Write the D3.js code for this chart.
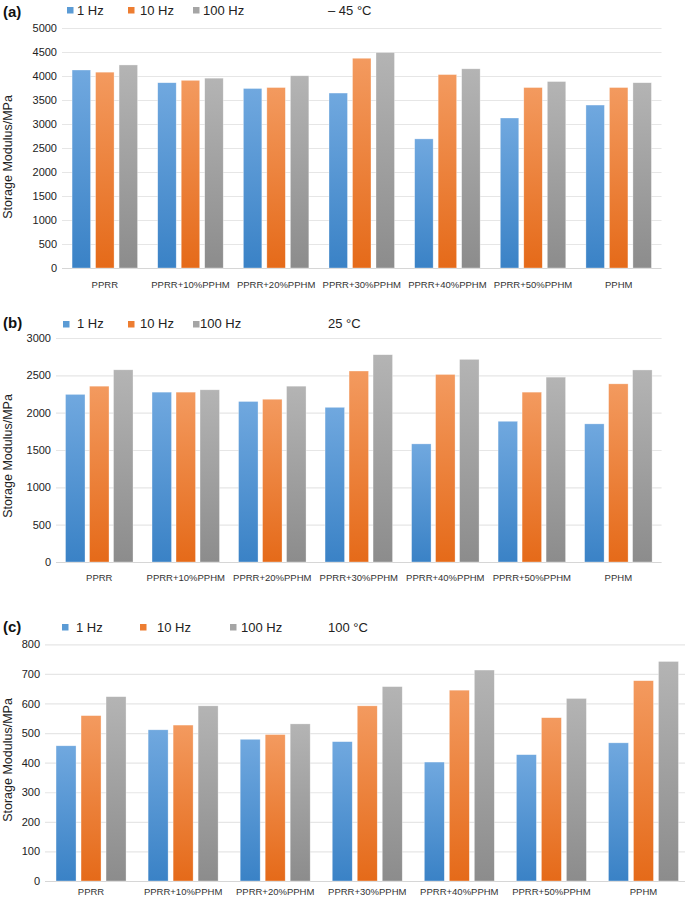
<!DOCTYPE html>
<html><head><meta charset="utf-8">
<script src="https://cdn.jsdelivr.net/npm/d3@7"></script>
<style>
html,body{margin:0;padding:0;background:#fff;}
svg{display:block;font-family:"Liberation Sans",Arial,Helvetica,sans-serif;}
</style></head>
<body>
<svg id="chart" width="685" height="900"></svg>
<script>
// ---- data ----
const categories = ["PPRR","PPRR+10%PPHM","PPRR+20%PPHM","PPRR+30%PPHM","PPRR+40%PPHM","PPRR+50%PPHM","PPHM"];
const seriesNames = ["1 Hz","10 Hz","100 Hz"];

const minus45_1Hz   = [4125, 3860, 3740, 3645, 2690, 3125, 3395];
const minus45_10Hz  = [4080, 3910, 3760, 4370, 4030, 3760, 3760];
const minus45_100Hz = [4230, 3955, 4005, 4490, 4150, 3885, 3860];

const t25_1Hz   = [2245, 2275, 2150, 2072, 1582, 1885, 1850];
const t25_10Hz  = [2355, 2275, 2180, 2558, 2512, 2275, 2386];
const t25_100Hz = [2574, 2306, 2355, 2776, 2714, 2476, 2572];

const t100_1Hz   = [457, 511, 479, 471, 402, 427, 467];
const t100_10Hz  = [559, 527, 495, 592, 645, 552, 677];
const t100_100Hz = [623, 592, 531, 657, 713, 617, 742];

const ticksA = [0,500,1000,1500,2000,2500,3000,3500,4000,4500,5000];
const ticksB = [0,500,1000,1500,2000,2500,3000];
const ticksC = [0,100,200,300,400,500,600,700,800];

const panelLabels = ["(a)","(b)","(c)"];
const tempLabels = ["\u2013 45 \u00B0C","25 \u00B0C","100 \u00B0C"];
const yTitle = "Storage Modulus/MPa";

// ---- layout (positions/styles only) ----
const panels = [
  {label:panelLabels[0], temp:tempLabels[0], series:[minus45_1Hz,minus45_10Hz,minus45_100Hz], ticks:ticksA, yMax:5000,
   x0:62, x1:661.5, yTop:28, yBot:268, tickX:57, barW:18.5, gap:5,
   labelY:17, legY:15, sq:[[67,7],[128,7],[193,7]], txt:[77,140,203], tempX:328, titleY:157, catY:288},
  {label:panelLabels[1], temp:tempLabels[1], series:[t25_1Hz,t25_10Hz,t25_100Hz], ticks:ticksB, yMax:3000,
   x0:56, x1:661.6, yTop:338, yBot:562, tickX:52, barW:19.5, gap:4.5,
   labelY:328, legY:328, sq:[[63,321],[128,321],[193,321]], txt:[77,140,200], tempX:328, titleY:456, catY:581},
  {label:panelLabels[2], temp:tempLabels[2], series:[t100_1Hz,t100_10Hz,t100_100Hz], ticks:ticksC, yMax:800,
   x0:45, x1:689.5, yTop:644.3, yBot:881, tickX:40, barW:20, gap:5,
   labelY:632, legY:632, sq:[[62,624],[140,624],[230,624]], txt:[76,157,241], tempX:328, titleY:760, catY:895}
];

const colors = [
  {top:"#70a8df", bot:"#3a82c6", flat:"#5b9bd5"},
  {top:"#f39a5f", bot:"#e56a19", flat:"#ed7d31"},
  {top:"#b4b4b4", bot:"#8c8c8c", flat:"#a5a5a5"}
];

const svg = d3.select("#chart");
const defs = svg.append("defs");
colors.forEach((c,i)=>{
  const g = defs.append("linearGradient").attr("id","grad"+i).attr("x1",0).attr("y1",0).attr("x2",0).attr("y2",1);
  g.append("stop").attr("offset","0%").attr("stop-color",c.top);
  g.append("stop").attr("offset","100%").attr("stop-color",c.bot);
});

panels.forEach((p)=>{
  const gP = svg.append("g");
  const x = d3.scaleBand().domain(categories).range([p.x0, p.x1]).padding(0);
  const groupW = 3*p.barW + 2*p.gap;
  const xi = d3.scaleBand().domain(seriesNames).range([0, groupW]).paddingInner(p.gap/(p.barW+p.gap)).paddingOuter(0);
  const off = (x.bandwidth() - groupW)/2;
  const y = d3.scaleLinear().domain([0,p.yMax]).range([p.yBot,p.yTop]);

  // gridlines + tick labels
  const yAxis = d3.axisLeft(y).tickValues(p.ticks).tickSize(-(p.x1 - p.x0)).tickPadding(5).tickFormat(d3.format("d"));
  const ga = gP.append("g").attr("transform",`translate(${p.x0},0)`).call(yAxis);
  ga.select(".domain").remove();
  ga.selectAll(".tick line").attr("stroke",d => d===0 ? "#d6d6d6" : "#e6e6e6").attr("stroke-width",1.2);
  ga.selectAll(".tick text").attr("font-size",11).attr("fill","#222")
    .attr("font-family",'"Liberation Sans",Arial,sans-serif');

  // bars
  categories.forEach((cat,ci)=>{
    p.series.forEach((arr,si)=>{
      gP.append("rect")
        .attr("x", x(cat) + off + xi(seriesNames[si]))
        .attr("y", y(arr[ci]))
        .attr("width", xi.bandwidth())
        .attr("height", y(0) - y(arr[ci]))
        .attr("fill", `url(#grad${si})`)
        .attr("stroke","rgba(255,255,255,0.55)").attr("stroke-width",0.6);
    });
  });

  // category axis labels
  const xAxis = d3.axisBottom(x).tickSize(0).tickPadding(0);
  const gx = gP.append("g").attr("transform",`translate(0,${p.catY})`).call(xAxis);
  gx.select(".domain").remove();
  gx.selectAll(".tick text").attr("font-size",9.5).attr("fill","#333").attr("dy",0)
    .attr("font-family",'"Liberation Sans",Arial,sans-serif');

  // y title
  gP.append("text").attr("transform",`translate(12,${p.titleY}) rotate(-90)`)
    .attr("text-anchor","middle").attr("font-size",12.5).attr("fill","#222").text(yTitle);

  // panel label
  gP.append("text").attr("x",3).attr("y",p.labelY).attr("font-size",15).attr("font-weight","bold")
    .attr("fill","#111").text(p.label);

  // legend
  seriesNames.forEach((s,si)=>{
    gP.append("rect").attr("x",p.sq[si][0]).attr("y",p.sq[si][1]).attr("width",6.5).attr("height",6.5)
      .attr("fill",colors[si].flat);
    gP.append("text").attr("x",p.txt[si]).attr("y",p.legY).attr("font-size",13).attr("fill","#222").text(s);
  });
  gP.append("text").attr("x",p.tempX).attr("y",p.legY).attr("font-size",13).attr("fill","#222").text(p.temp);
});
</script>
</body></html>
